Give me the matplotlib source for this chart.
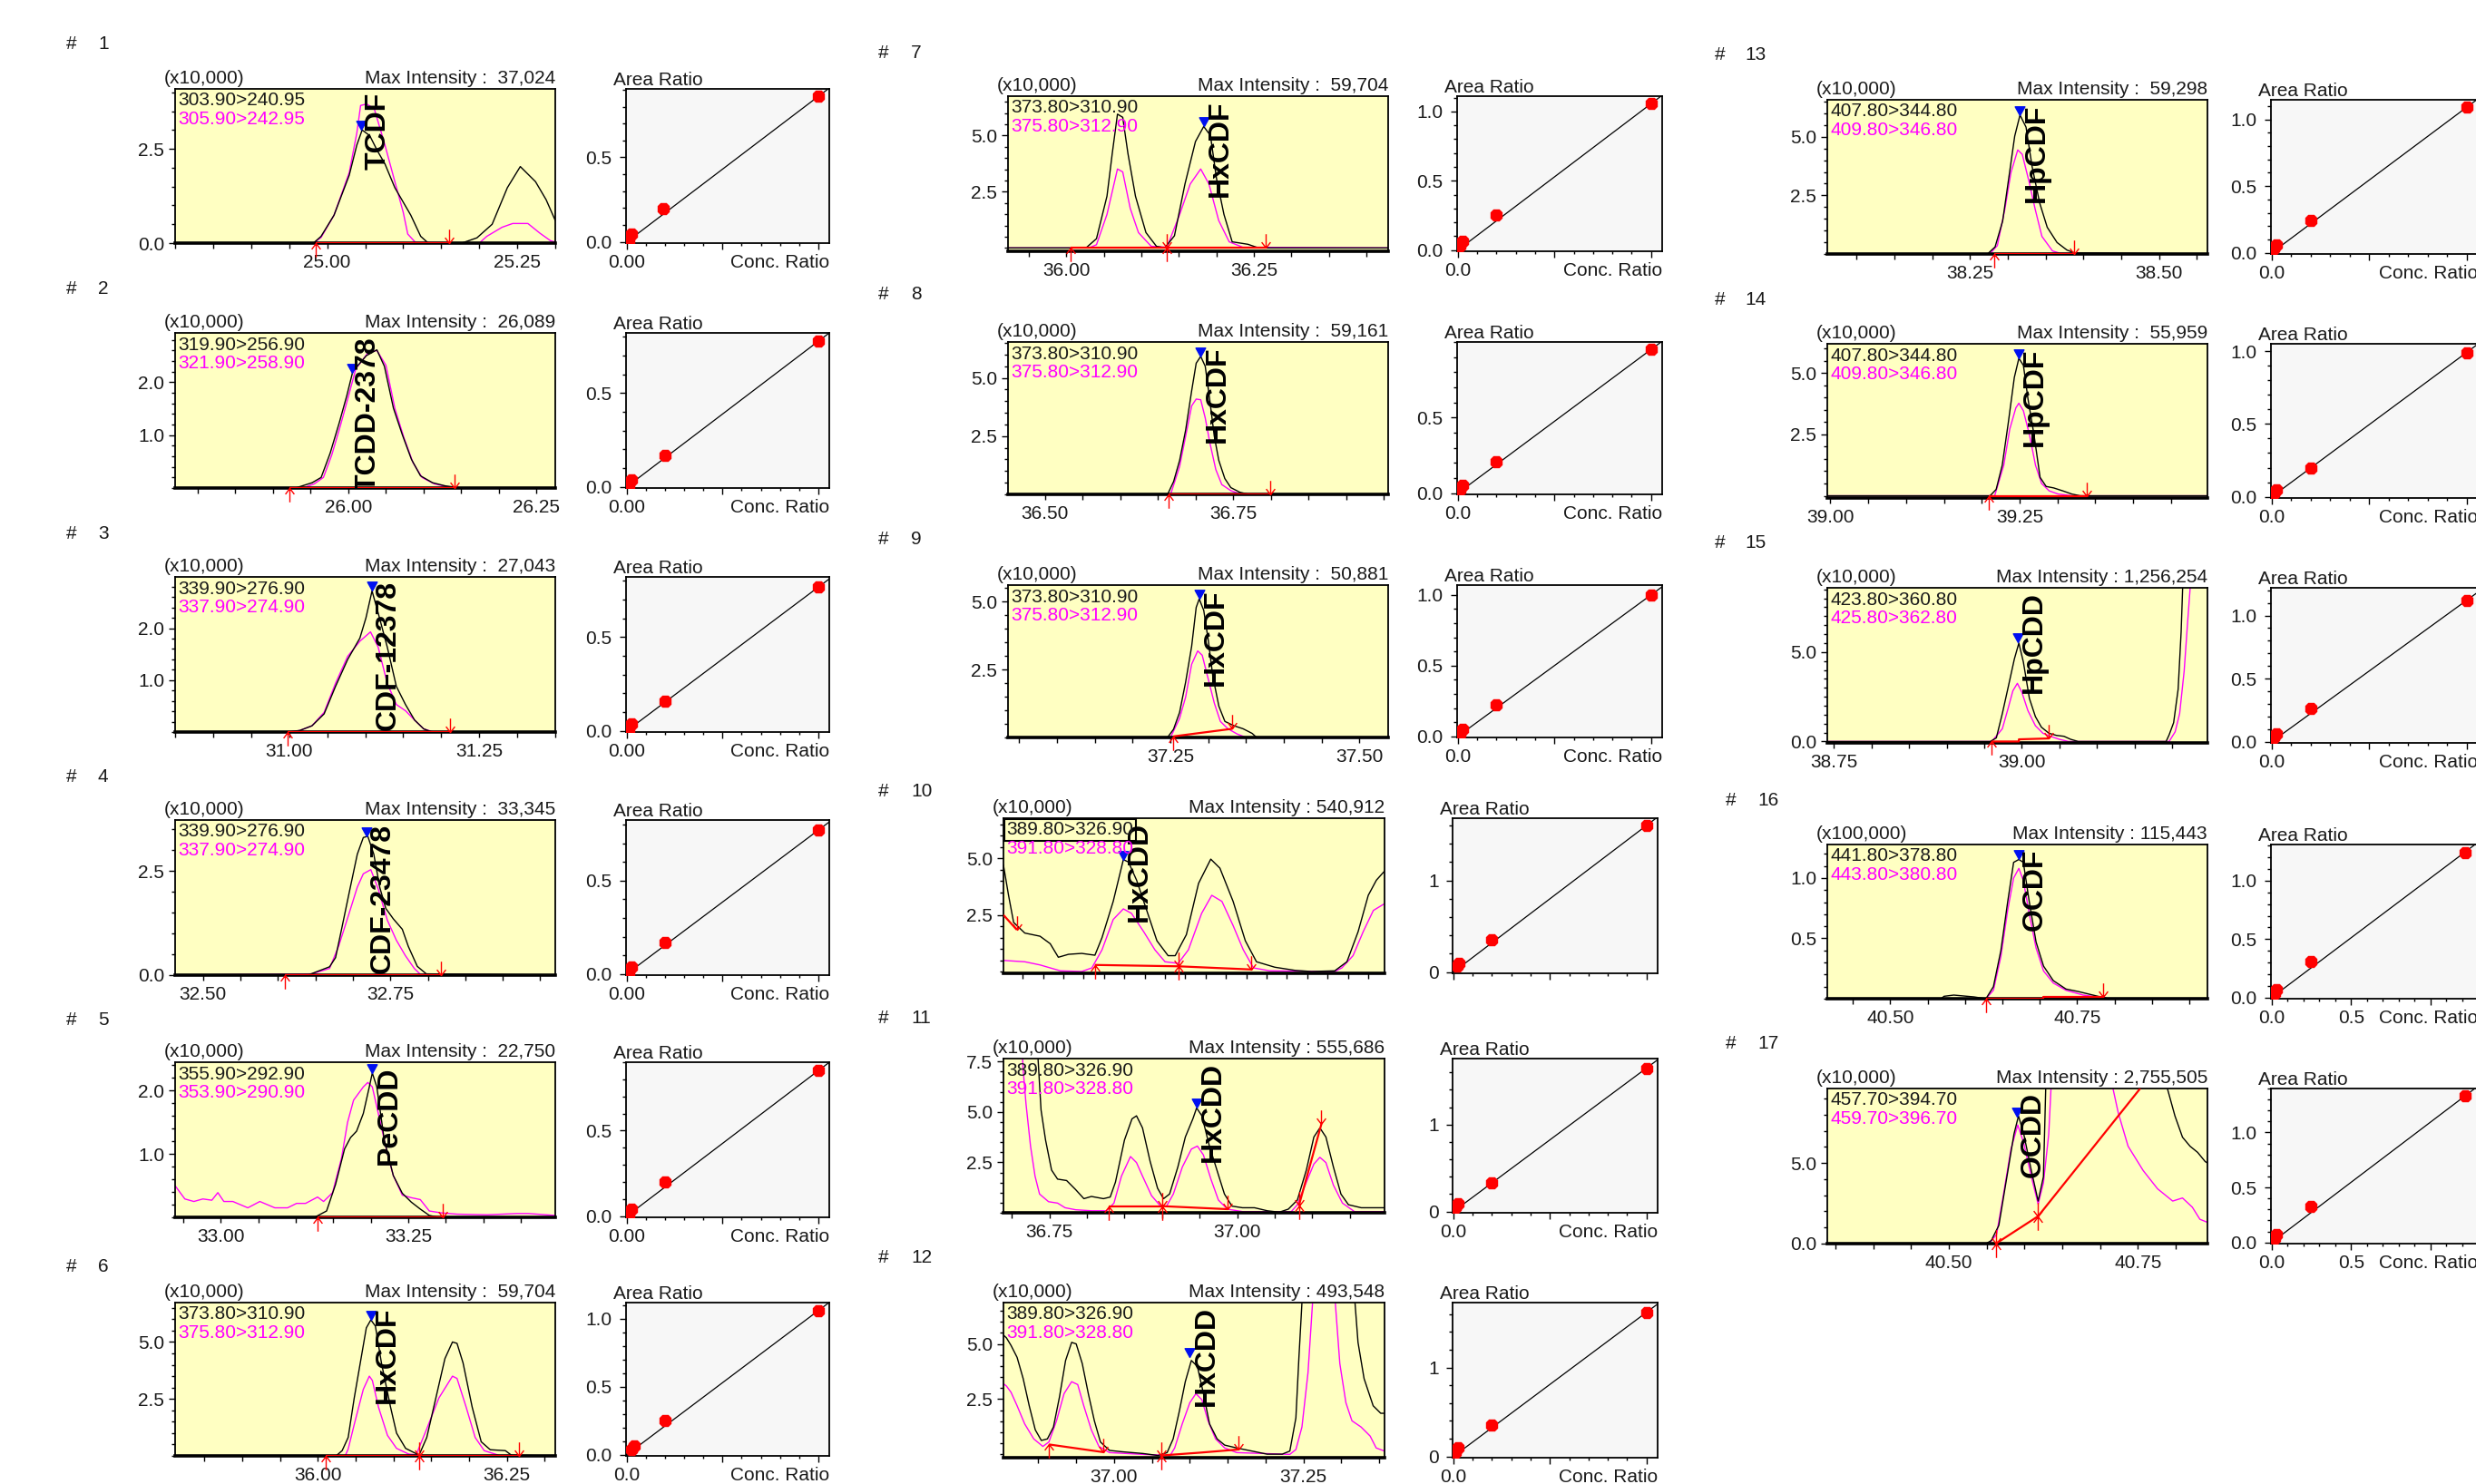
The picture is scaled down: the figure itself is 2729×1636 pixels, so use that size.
import numpy as np
import matplotlib
matplotlib.use("Agg")
import matplotlib.pyplot as plt
from matplotlib.path import Path
import matplotlib.transforms as mtransforms

plt.rcParams['font.family'] = ['Liberation Sans', 'DejaVu Sans']

# ----------------------------------------------------------------- text data
compound_names = ['TCDF', 'TCDD-2378', 'CDF-12378', 'CDF-23478', 'PeCDD',
                  'HxCDF', 'HxCDF', 'HxCDF', 'HxCDF', 'HxCDD', 'HxCDD', 'HxCDD',
                  'HpCDF', 'HpCDF', 'HpCDD', 'OCDF', 'OCDD']
mz_quant = ['303.90>240.95', '319.90>256.90', '339.90>276.90', '339.90>276.90',
            '355.90>292.90', '373.80>310.90', '373.80>310.90', '373.80>310.90',
            '373.80>310.90', '389.80>326.90', '389.80>326.90', '389.80>326.90',
            '407.80>344.80', '407.80>344.80', '423.80>360.80', '441.80>378.80',
            '457.70>394.70']
mz_qual = ['305.90>242.95', '321.90>258.90', '337.90>274.90', '337.90>274.90',
           '353.90>290.90', '375.80>312.90', '375.80>312.90', '375.80>312.90',
           '375.80>312.90', '391.80>328.80', '391.80>328.80', '391.80>328.80',
           '409.80>346.80', '409.80>346.80', '425.80>362.80', '443.80>380.80',
           '459.70>396.70']
max_intensity = ['37,024', '26,089', '27,043', '33,345', '22,750', '59,704',
                 '59,704', '59,161', '50,881', '540,912', '555,686', '493,548',
                 '59,298', '55,959', '1,256,254', '115,443', '2,755,505']
scale_labels = ['(x10,000)'] * 15 + ['(x100,000)', '(x10,000)']

# ----------------------------------------------------------------- chromatograms
# Panel 1 : TCDF
bt01 = [24.80, 24.982, 24.992, 25.009, 25.029, 25.039, 25.046, 25.056, 25.066, 25.076, 25.089,
        25.11, 25.123, 25.133, 25.177, 25.197, 25.217, 25.237, 25.254, 25.274, 25.288, 25.30]
by01 = [0, 0, 0.18, 0.74, 1.8, 2.6, 3.0, 2.85, 2.45, 2.1, 1.47, 0.74, 0.18, 0, 0, 0.14, 0.5,
        1.47, 2.03, 1.63, 1.15, 0.6]
mt01 = [24.80, 24.982, 24.992, 25.009, 25.029, 25.039, 25.044, 25.052, 25.062, 25.076, 25.089,
        25.10, 25.106, 25.116, 25.20, 25.21, 25.23, 25.244, 25.264, 25.28, 25.294, 25.30]
my01 = [0, 0, 0.15, 0.74, 1.87, 2.92, 3.65, 3.69, 3.56, 2.6, 1.63, 0.82, 0.24, 0.02, 0, 0.18,
        0.42, 0.52, 0.52, 0.26, 0.06, 0.03]
base_t01 = [[24.985, 25.16]]
base_y01 = [[0, 0]]
arrows01 = [(24.985, 0, 'up'), (25.16, 0, 'down')]
apex01 = (25.045, 3.0)

# Panel 2 : TCDD-2378
bt02 = [25.77, 25.93, 25.952, 25.964, 25.976, 25.988, 25.998, 26.006, 26.024, 26.038, 26.048,
        26.06, 26.072, 26.084, 26.096, 26.112, 26.129, 26.15, 26.275]
by02 = [0, 0, 0.1, 0.2, 0.66, 1.23, 1.74, 2.2, 2.5, 2.61, 2.3, 1.51, 1.0, 0.54, 0.23, 0.1,
        0.04, 0, 0]
mt02 = [25.77, 25.94, 25.955, 25.967, 25.978, 25.99, 26.0, 26.01, 26.026, 26.038, 26.05,
        26.062, 26.074, 26.086, 26.098, 26.114, 26.13, 26.15, 26.275]
my02 = [0, 0, 0.08, 0.2, 0.62, 1.2, 1.72, 2.25, 2.55, 2.6, 2.32, 1.5, 0.95, 0.48, 0.2, 0.08,
        0.03, 0, 0]
base_t02 = [[25.922, 26.141]]
base_y02 = [[0, 0]]
arrows02 = [(25.922, 0, 'up'), (26.141, 0, 'down')]
apex02 = (26.005, 2.18)

# Panel 3 : PeCDF-12378
bt03 = [30.85, 30.998, 31.014, 31.03, 31.046, 31.061, 31.077, 31.093, 31.101, 31.109, 31.117,
        31.129, 31.141, 31.153, 31.165, 31.177, 31.188, 31.35]
by03 = [0, 0, 0.03, 0.12, 0.35, 0.88, 1.4, 1.81, 2.2, 2.72, 2.3, 1.64, 0.88, 0.53, 0.23, 0.06,
        0, 0]
mt03 = [30.85, 31.0, 31.014, 31.03, 31.046, 31.061, 31.077, 31.093, 31.107, 31.117, 31.129,
        31.141, 31.153, 31.165, 31.177, 31.19, 31.35]
my03 = [0, 0, 0.03, 0.12, 0.38, 0.94, 1.46, 1.75, 1.93, 1.64, 0.94, 0.53, 0.41, 0.23, 0.06,
        0, 0]
base_t03 = [[30.998, 31.212]]
base_y03 = [[0, 0]]
arrows03 = [(30.998, 0, 'up'), (31.212, 0, 'down')]
apex03 = (31.109, 2.72)

# Panel 4 : PeCDF-23478
bt04 = [32.463, 32.64, 32.669, 32.677, 32.685, 32.696, 32.706, 32.714, 32.72, 32.728, 32.736,
        32.744, 32.754, 32.766, 32.774, 32.786, 32.798, 32.97]
by04 = [0, 0, 0.2, 0.42, 1.1, 2.05, 2.9, 3.3, 3.33, 2.9, 2.1, 1.6, 1.35, 1.1, 0.69, 0.21,
        0.03, 0]
mt04 = [32.463, 32.645, 32.669, 32.681, 32.694, 32.706, 32.714, 32.724, 32.734, 32.746, 32.758,
        32.77, 32.782, 32.79, 32.97]
my04 = [0, 0.03, 0.16, 0.69, 1.42, 2.11, 2.43, 2.53, 2.06, 1.32, 0.84, 0.47, 0.16, 0.02, 0]
base_t04 = [[32.609, 32.817]]
base_y04 = [[0, 0]]
arrows04 = [(32.609, 0, 'up'), (32.817, 0, 'down')]
apex04 = (32.718, 3.33)

# Panel 5 : PeCDD
bt05 = [32.939, 33.125, 33.141, 33.153, 33.165, 33.173, 33.181, 33.19, 33.198, 33.202, 33.208,
        33.218, 33.23, 33.242, 33.254, 33.266, 33.278, 33.29, 33.446]
by05 = [0, 0, 0.1, 0.52, 1.08, 1.26, 1.36, 1.64, 2.06, 2.28, 2.06, 1.22, 0.66, 0.38, 0.24,
        0.13, 0.03, 0, 0]
mt05 = [32.939, 32.942, 32.952, 32.964, 32.976, 32.988, 32.996, 33.004, 33.016, 33.036,
        33.052, 33.072, 33.089, 33.101, 33.113, 33.129, 33.137, 33.149, 33.161, 33.169,
        33.177, 33.19, 33.196, 33.202, 33.21, 33.222, 33.23, 33.242, 33.254, 33.266,
        33.278, 33.294, 33.315, 33.355, 33.395, 33.41, 33.446]
my05 = [0.5, 0.45, 0.29, 0.25, 0.29, 0.27, 0.39, 0.25, 0.25, 0.15,
        0.25, 0.15, 0.15, 0.22, 0.22, 0.32, 0.25, 0.39, 0.94, 1.5,
        1.85, 2.06, 2.13, 2.06, 1.64, 1.01, 0.66, 0.35, 0.31, 0.28,
        0.1, 0.07, 0.05, 0.04, 0.06, 0.06, 0.03]
base_t05 = [[33.129, 33.296]]
base_y05 = [[0, 0]]
arrows05 = [(33.129, 0, 'up'), (33.296, 0, 'down')]
apex05 = (33.202, 2.28)

# Panel 6 : HxCDF
bt06 = [35.811, 36.024, 36.032, 36.04, 36.048, 36.056, 36.064, 36.07, 36.076, 36.084, 36.096,
        36.104, 36.116, 36.128, 36.134, 36.144, 36.156, 36.168, 36.178, 36.184, 36.192,
        36.204, 36.216, 36.228, 36.248, 36.256, 36.314]
by06 = [0, 0, 0.23, 0.81, 2.54, 4.08, 5.62, 5.97, 5.7, 4.08, 2.15, 1.0, 0.33, 0.13, 0.05,
        0.81, 2.54, 4.27, 5.0, 4.94, 4.08, 2.15, 0.62, 0.27, 0.23, 0.03, 0]
mt06 = [35.811, 36.036, 36.04, 36.048, 36.06, 36.068, 36.072, 36.08, 36.092, 36.104, 36.12,
        36.13, 36.144, 36.16, 36.178, 36.184, 36.196, 36.208, 36.22, 36.24, 36.314]
my06 = [0, 0, 0.3, 1.38, 2.92, 3.5, 3.31, 2.15, 0.9, 0.33, 0.08, 0.05, 1.19, 2.54, 3.5, 3.4,
        2.15, 0.81, 0.23, 0.02, 0]
base_t06 = [[36.01, 36.134], [36.134, 36.266]]
base_y06 = [[0, 0], [0, 0]]
arrows06 = [(36.01, 0, 'up'), (36.134, 0, 'junction'), (36.266, 0, 'down')]
apex06 = (36.07, 5.97)

# Panel 7 : HxCDF
bt07 = [35.922, 36.026, 36.04, 36.054, 36.061, 36.068, 36.075, 36.082, 36.092, 36.106, 36.12,
        36.131, 36.144, 36.158, 36.172, 36.183, 36.192, 36.2, 36.21, 36.221, 36.242, 36.256,
        36.429]
by07 = [0, 0, 0.41, 2.3, 4.19, 5.95, 5.81, 4.19, 2.3, 0.68, 0.07, 0, 0.54, 2.84, 4.73, 5.4,
        5.0, 3.1, 1.49, 0.27, 0.16, 0, 0]
mt07 = [35.922, 36.03, 36.04, 36.054, 36.068, 36.075, 36.085, 36.096, 36.113, 36.134, 36.151,
        36.165, 36.179, 36.19, 36.203, 36.217, 36.235, 36.429]
my07 = [0, 0, 0.14, 1.49, 3.51, 3.38, 1.76, 0.68, 0.07, 0.03, 1.49, 2.84, 3.51, 2.84, 1.22,
        0.27, 0.03, 0]
base_t07 = [[36.006, 36.134], [36.134, 36.266]]
base_y07 = [[0, 0], [0, 0]]
arrows07 = [(36.006, 0, 'up'), (36.134, 0, 'junction'), (36.266, 0, 'down')]
apex07 = (36.183, 5.4)

# Panel 8 : HxCDF
bt08 = [36.451, 36.663, 36.671, 36.679, 36.687, 36.695, 36.701, 36.707, 36.713, 36.719, 36.725,
        36.731, 36.739, 36.747, 36.759, 36.771, 36.956]
by08 = [0, 0, 0.55, 1.46, 2.76, 4.45, 5.63, 5.92, 5.5, 4.06, 2.5, 1.46, 0.68, 0.29, 0.09, 0, 0]
mt08 = [36.451, 36.667, 36.679, 36.687, 36.695, 36.701, 36.707, 36.713, 36.719, 36.727, 36.735,
        36.747, 36.759, 36.956]
my08 = [0, 0, 1.2, 2.5, 3.8, 4.09, 4.06, 3.28, 2.24, 1.07, 0.42, 0.16, 0.02, 0]
base_t08 = [[36.664, 36.799]]
base_y08 = [[0, 0]]
arrows08 = [(36.664, 0, 'up'), (36.799, 0, 'down')]
apex08 = (36.707, 5.92)

# Panel 9 : HxCDF
bt09 = [37.035, 37.246, 37.254, 37.262, 37.27, 37.278, 37.284, 37.288, 37.294, 37.30, 37.306,
        37.314, 37.322, 37.334, 37.346, 37.358, 37.364, 37.538]
by09 = [0, 0, 0.3, 0.92, 2.03, 3.35, 4.78, 5.09, 4.67, 3.57, 2.25, 1.15, 0.59, 0.43, 0.32,
        0.15, 0, 0]
mt09 = [37.035, 37.25, 37.262, 37.27, 37.278, 37.286, 37.292, 37.30, 37.308, 37.316, 37.326,
        37.338, 37.35, 37.538]
my09 = [0, 0, 0.7, 1.48, 2.69, 3.18, 3.02, 2.14, 1.26, 0.59, 0.32, 0.13, 0, 0]
base_t09 = [[37.254, 37.332]]
base_y09 = [[0.04, 0.32]]
arrows09 = [(37.254, 0.04, 'up'), (37.332, 0.32, 'down')]
apex09 = (37.288, 5.09)

# Panel 10 : HxCDD
bt10 = [36.741, 36.746, 36.751, 36.762, 36.777, 36.787, 36.795, 36.805, 36.818, 36.831,
        36.838, 36.849, 36.859, 36.864, 36.872, 36.882, 36.892, 36.903, 36.91, 36.921,
        36.933, 36.945, 36.954, 36.967, 36.979, 36.99, 37.008, 37.028, 37.044, 37.067,
        37.079, 37.09, 37.1, 37.108, 37.116]
by10 = [4.7, 3.37, 2.17, 1.7, 1.56, 1.23, 0.63, 0.76, 0.8, 0.72,
        1.5, 3.1, 4.95, 4.84, 4.04, 2.7, 1.36, 0.7, 0.7, 1.63,
        3.9, 4.97, 4.57, 3.1, 1.36, 0.43, 0.19, 0.05, 0, 0.03,
        0.43, 1.76, 3.37, 4.04, 4.44]
mt10 = [36.741, 36.762, 36.777, 36.797, 36.818, 36.828, 36.838, 36.849, 36.859, 36.867,
        36.879, 36.89, 36.9, 36.913, 36.923, 36.936, 36.946, 36.956, 36.967, 36.977,
        36.987, 37.003, 37.067, 37.074, 37.085, 37.095, 37.105, 37.116]
my10 = [0.49, 0.43, 0.29, 0.03, 0, 0.16, 0.96, 2.3, 2.77, 2.57,
        1.76, 0.96, 0.43, 0.36, 0.96, 2.57, 3.37, 3.1, 2.03, 0.96,
        0.16, 0.03, 0, 0.16, 0.7, 1.76, 2.7, 3.0]
base_t10 = [[36.741, 36.754], [36.831, 36.913], [36.913, 36.985]]
base_y10 = [[2.5, 1.85], [0.29, 0.23], [0.23, 0.09]]
arrows10 = [(36.754, 1.85, 'down'), (36.831, 0.29, 'up'), (36.913, 0.23, 'junction'),
            (36.985, 0.09, 'down')]
apex10 = (36.859, 4.95)

# Panel 11 : HxCDD
bt11 = [36.689, 36.735, 36.739, 36.745, 36.753, 36.761, 36.773, 36.785, 36.796, 36.806,
        36.822, 36.831, 36.838, 36.85, 36.86, 36.866, 36.874, 36.884, 36.894, 36.902,
        36.91, 36.921, 36.931, 36.941, 36.946, 36.953, 36.963, 36.973, 36.983, 36.993,
        37.007, 37.023, 37.04, 37.056, 37.068, 37.08, 37.092, 37.102, 37.11, 37.118,
        37.128, 37.138, 37.148, 37.165, 37.196]
by11 = [55.57, 7.64, 5.1, 3.61, 2.12, 1.67, 1.6, 1.15, 0.7, 0.81,
        0.7, 0.78, 1.52, 3.61, 4.66, 4.81, 4.21, 2.57, 1.22, 0.7,
        0.93, 2.27, 3.76, 4.66, 5.2, 4.81, 3.31, 2.12, 0.93, 0.33,
        0.25, 0.25, 0.1, 0.03, 0.18, 0.63, 2.12, 3.76, 4.21, 3.76,
        2.27, 0.93, 0.4, 0.25, 0.25]
mt11 = [36.689, 36.715, 36.719, 36.725, 36.731, 36.737, 36.749, 36.761, 36.771, 36.785,
        36.806, 36.826, 36.836, 36.846, 36.858, 36.866, 36.874, 36.886, 36.898, 36.906,
        36.915, 36.927, 36.939, 36.947, 36.955, 36.965, 36.975, 36.987, 37.007, 37.072,
        37.08, 37.092, 37.102, 37.11, 37.118, 37.128, 37.14, 37.156, 37.196]
my11 = [30.0, 7.2, 5.4, 3.31, 1.82, 0.93, 0.55, 0.48, 0.25, 0.15,
        0.1, 0.1, 0.48, 1.82, 2.79, 2.49, 1.82, 0.85, 0.33, 0.33,
        0.93, 2.27, 3.16, 3.31, 2.87, 1.67, 0.63, 0.18, 0.06, 0.06,
        0.4, 1.52, 2.42, 2.75, 2.49, 1.37, 0.48, 0.06, 0.06]
base_t11 = [[36.829, 36.9], [36.9, 36.987], [37.082, 37.112]]
base_y11 = [[0.33, 0.33], [0.33, 0.18], [0.35, 4.4]]
arrows11 = [(36.829, 0.33, 'up'), (36.9, 0.33, 'junction'), (36.987, 0.18, 'down'),
            (37.082, 0.35, 'junction'), (37.112, 4.4, 'down')]
apex11 = (36.946, 5.2)

# Panel 12 : HxCDD
bt12 = [36.854, 36.858, 36.864, 36.872, 36.88, 36.888, 36.896, 36.904, 36.912, 36.92,
        36.928, 36.936, 36.944, 36.95, 36.958, 36.966, 36.974, 36.982, 36.994, 37.01,
        37.038, 37.058, 37.07, 37.078, 37.086, 37.094, 37.102, 37.11, 37.118, 37.126,
        37.136, 37.146, 37.162, 37.182, 37.202, 37.222, 37.232, 37.24, 37.244, 37.248,
        37.275, 37.318, 37.322, 37.33, 37.342, 37.352, 37.357]
by12 = [5.4, 5.27, 4.93, 4.39, 3.43, 2.2, 1.11, 0.63, 0.7, 1.24,
        2.61, 4.25, 5.07, 5.0, 4.11, 2.75, 1.52, 0.56, 0.18, 0.12,
        0.04, -0.05, 0.08, 0.7, 1.93, 3.29, 4.25, 3.98, 2.75, 1.38,
        0.7, 0.42, 0.29, 0.15, 0.01, 0.01, 0.15, 1.65, 4.39, 6.87,
        49.35, 6.87, 5.07, 3.43, 2.2, 1.86, 1.86]
mt12 = [36.854, 36.858, 36.864, 36.872, 36.882, 36.894, 36.906, 36.914, 36.924, 36.934,
        36.944, 36.952, 36.96, 36.97, 36.98, 36.994, 37.038, 37.074, 37.08, 37.09,
        37.1, 37.108, 37.116, 37.124, 37.134, 37.146, 37.162, 37.232, 37.24, 37.248,
        37.256, 37.262, 37.275, 37.292, 37.298, 37.306, 37.314, 37.326, 37.338, 37.346,
        37.357]
my12 = [3.2, 3.09, 2.81, 2.2, 1.38, 0.7, 0.36, 0.56, 1.52, 2.75,
        3.29, 3.16, 2.2, 1.11, 0.36, 0.08, 0.0, -0.05, 0.29, 1.38,
        2.34, 2.75, 2.47, 1.52, 0.7, 0.29, 0.08, 0.0, 0.22, 1.24,
        3.7, 6.87, 30.0, 6.87, 4.11, 2.34, 1.52, 1.24, 0.83, 0.29,
        0.15]
base_t12 = [[36.914, 36.986], [37.062, 37.114, 37.164]]
base_y12 = [[0.45, 0.1], [-0.05, 0.08, 0.22]]
arrows12 = [(36.914, 0.45, 'up'), (36.986, 0.1, 'down'), (37.062, -0.05, 'junction'),
            (37.164, 0.22, 'down')]
apex12 = (37.1, 4.4)

# Panel 13 : HpCDF
bt13 = [38.061, 38.273, 38.283, 38.293, 38.301, 38.309, 38.316, 38.324, 38.332, 38.342,
        38.352, 38.365, 38.378, 38.388, 38.564]
by13 = [0, 0, 0.3, 1.4, 3.21, 5.03, 5.93, 5.41, 3.73, 2.18, 1.14, 0.49, 0.17, 0.05, 0]
mt13 = [38.061, 38.276, 38.286, 38.296, 38.304, 38.313, 38.319, 38.328, 38.336, 38.345,
        38.359, 38.369, 38.564]
my13 = [0, 0, 0.36, 1.92, 3.47, 4.44, 4.25, 3.08, 1.92, 0.75, 0.13, 0.03, 0]
base_t13 = [[38.282, 38.388]]
base_y13 = [[0, 0]]
arrows13 = [(38.282, 0, 'up'), (38.388, 0, 'down')]
apex13 = (38.316, 5.93)

# Panel 14 : HpCDF
bt14 = [38.996, 39.211, 39.219, 39.227, 39.235, 39.243, 39.249, 39.255, 39.261, 39.269,
        39.277, 39.285, 39.295, 39.307, 39.319, 39.33, 39.498]
by14 = [0, 0, 0.26, 1.24, 2.97, 4.82, 5.6, 5.31, 3.95, 2.48, 0.75, 0.38, 0.32, 0.2, 0.07, 0, 0]
mt14 = [38.996, 39.217, 39.229, 39.237, 39.245, 39.249, 39.255, 39.263, 39.271, 39.279,
        39.289, 39.301, 39.32, 39.498]
my14 = [0, 0, 1.24, 2.72, 3.58, 3.77, 3.46, 2.48, 1.24, 0.5, 0.2, 0.07, 0, 0]
base_t14 = [[39.209, 39.339]]
base_y14 = [[0, 0]]
arrows14 = [(39.209, 0, 'up'), (39.339, 0, 'down')]
apex14 = (39.249, 5.6)

# Panel 15 : HpCDD
bt15 = [38.741, 38.958, 38.966, 38.974, 38.982, 38.99, 38.996, 39.002, 39.01, 39.018,
        39.026, 39.036, 39.046, 39.056, 39.065, 39.075, 39.192, 39.196, 39.202, 39.208,
        39.212, 39.214, 39.235, 39.247]
by15 = [0, 0, 0.2, 1.56, 3.08, 4.61, 5.5, 4.44, 2.41, 1.39,
        0.8, 0.46, 0.34, 0.29, 0.12, 0, 0, 0.37, 1.05, 2.92,
        6.14, 8.59, 125.6, 110.0]
mt15 = [38.741, 38.96, 38.974, 38.982, 38.988, 38.994, 39.0, 39.008, 39.018, 39.028,
        39.038, 39.05, 39.062, 39.196, 39.204, 39.21, 39.216, 39.22, 39.224, 39.247]
my15 = [0, 0, 0.71, 1.9, 2.83, 3.25, 2.75, 1.73, 0.88, 0.46,
        0.29, 0.12, 0, 0, 0.54, 1.56, 3.93, 6.31, 8.59, 60.0]
base_t15 = [[38.96, 38.996, 38.996, 39.036]]
base_y15 = [[0, 0, 0.12, 0.17]]
arrows15 = [(38.96, 0, 'up'), (39.036, 0.17, 'down')]
apex15 = (38.994, 5.55)

# Panel 16 : OCDF  (x100,000)
bt16 = [40.416, 40.568, 40.572, 40.585, 40.612, 40.628, 40.638, 40.648, 40.657, 40.665,
        40.672, 40.678, 40.686, 40.695, 40.705, 40.718, 40.735, 40.751, 40.771, 40.791, 40.924]
by16 = [0, 0, 0.02, 0.03, 0.015, 0, 0.1, 0.4, 0.8, 1.13, 1.154, 1.13, 0.8, 0.47, 0.27, 0.15,
        0.08, 0.06, 0.03, 0, 0]
mt16 = [40.416, 40.628, 40.638, 40.648, 40.657, 40.665, 40.672, 40.678, 40.686, 40.695,
        40.705, 40.718, 40.735, 40.758, 40.794, 40.924]
my16 = [0, 0, 0.07, 0.35, 0.73, 1.0, 1.08, 0.98, 0.7, 0.42, 0.23, 0.13, 0.07, 0.03, 0, 0]
base_t16 = [[40.628, 40.705, 40.705, 40.785]]
base_y16 = [[0, 0, 0.015, 0.015]]
arrows16 = [(40.628, 0, 'up'), (40.785, 0.015, 'down')]
apex16 = (40.672, 1.154)

# Panel 17 : OCDD
bt17 = [40.339, 40.549, 40.556, 40.566, 40.576, 40.586, 40.592, 40.599, 40.609, 40.618,
        40.625, 40.628, 40.70, 40.789, 40.799, 40.809, 40.819, 40.829, 40.839, 40.842]
by17 = [0, 0, 0.19, 1.13, 3.96, 6.79, 7.92, 6.79, 4.53, 2.64,
        4.15, 9.62, 275.5, 9.62, 7.92, 6.6, 6.04, 5.66, 5.09, 5.0]
mt17 = [40.339, 40.553, 40.563, 40.572, 40.582, 40.591, 40.599, 40.609, 40.618, 40.625,
        40.632, 40.635, 40.68, 40.717, 40.724, 40.737, 40.757, 40.776, 40.796, 40.809,
        40.822, 40.832, 40.842]
my17 = [0, 0, 0.57, 3.02, 5.85, 7.36, 6.23, 4.15, 2.45, 3.77,
        6.79, 9.62, 120.0, 9.62, 8.11, 6.04, 4.53, 3.4, 2.64, 2.83,
        2.26, 1.51, 1.32]
base_t17 = [[40.562, 40.618, 40.753]]
base_y17 = [[0, 1.7, 9.62]]
arrows17 = [(40.562, 0, 'junction'), (40.618, 1.7, 'junction')]
apex17 = (40.59, 7.85)

# ----------------------------------------------------------------- calibrations
cal_x01 = [0.01, 0.025, 0.19, 1.0];   cal_y01 = [0.01, 0.045, 0.196, 0.86]
cal_x02 = [0.01, 0.025, 0.2, 1.0];    cal_y02 = [0.01, 0.035, 0.167, 0.775]
cal_x03 = [0.01, 0.025, 0.2, 1.0];    cal_y03 = [0.01, 0.035, 0.16, 0.765]
cal_x04 = [0.01, 0.025, 0.2, 1.0];    cal_y04 = [0.01, 0.035, 0.17, 0.77]
cal_x05 = [0.01, 0.025, 0.2, 1.0];    cal_y05 = [0.01, 0.04, 0.2, 0.85]
cal_x06 = [0.024, 0.04, 0.2, 1.0];    cal_y06 = [0.035, 0.062, 0.25, 1.06]
cal_x07 = [0.01, 0.025, 0.197, 1.0];  cal_y07 = [0.03, 0.06, 0.254, 1.055]
cal_x08 = [0.01, 0.025, 0.2, 1.0];    cal_y08 = [0.02, 0.05, 0.21, 0.95]
cal_x09 = [0.01, 0.025, 0.2, 1.0];    cal_y09 = [0.02, 0.05, 0.22, 1.0]
cal_x10 = [0.02, 0.03, 0.196, 1.0];   cal_y10 = [0.07, 0.1, 0.354, 1.6]
cal_x11 = [0.01, 0.025, 0.2, 1.0];    cal_y11 = [0.05, 0.09, 0.33, 1.65]
cal_x12 = [0.01, 0.025, 0.2, 1.0];    cal_y12 = [0.05, 0.1, 0.35, 1.62]
cal_x13 = [0.01, 0.025, 0.2, 1.0];    cal_y13 = [0.03, 0.06, 0.244, 1.09]
cal_x14 = [0.01, 0.025, 0.2, 1.0];    cal_y14 = [0.02, 0.05, 0.2, 0.99]
cal_x15 = [0.01, 0.025, 0.2, 1.0];    cal_y15 = [0.03, 0.06, 0.26, 1.12]
cal_x16 = [0.02, 0.03, 0.248, 1.217]; cal_y16 = [0.035, 0.07, 0.306, 1.243]
cal_x17 = [0.02, 0.03, 0.248, 1.217]; cal_y17 = [0.04, 0.075, 0.33, 1.33]

# ----------------------------------------------------------------- axis scales / tick labels
chrom_xlim = [(24.80, 25.30), (25.77, 26.275), (30.85, 31.35), (32.463, 32.97),
              (32.939, 33.446), (35.811, 36.314), (35.922, 36.429), (36.451, 36.956),
              (37.035, 37.538), (36.741, 37.116), (36.689, 37.196), (36.854, 37.357),
              (38.061, 38.564), (38.996, 39.498), (38.741, 39.247), (40.416, 40.924),
              (40.339, 40.842)]
chrom_ylim = [(0, 4.09), (0, 2.93), (0, 2.99), (0, 3.72), (0, 2.45), (0, 6.73),
              (-0.15, 6.75), (0, 6.54), (0, 5.6), (-0.08, 6.78), (0, 7.65), (-0.15, 6.87),
              (0, 6.58), (-0.09, 6.19), (-0.08, 8.59), (0, 1.278), (0, 9.62)]
chrom_xlabels = [[25.00, 25.25], [26.00, 26.25], [31.00, 31.25], [32.50, 32.75],
                 [33.00, 33.25], [36.00, 36.25], [36.00, 36.25], [36.50, 36.75],
                 [37.25, 37.50], [], [36.75, 37.00], [37.00, 37.25], [38.25, 38.50],
                 [39.00, 39.25], [38.75, 39.00], [40.50, 40.75], [40.50, 40.75]]
chrom_xstep = [0.05] * 9 + [0.02] + [0.05] * 7
chrom_ylabels = [[0.0, 2.5], [1.0, 2.0], [1.0, 2.0], [0.0, 2.5], [1.0, 2.0], [2.5, 5.0],
                 [2.5, 5.0], [2.5, 5.0], [2.5, 5.0], [2.5, 5.0], [2.5, 5.0, 7.5],
                 [2.5, 5.0], [2.5, 5.0], [2.5, 5.0], [0.0, 5.0], [0.5, 1.0], [0.0, 5.0]]
chrom_ystep = [0.5, 0.2, 0.2, 0.5, 0.2, 0.5, 0.5, 0.5, 0.5, 0.5, 0.5, 0.5, 0.5, 0.5, 0.5,
               0.1, 1.0]

cal_ytop = [0.905, 0.82, 0.82, 0.825, 0.9, 1.12, 1.11, 1.0, 1.07, 1.68, 1.76, 1.73, 1.147,
            1.05, 1.22, 1.31, 1.40]
cal_xmax = [1.058] * 15 + [1.30, 1.30]
cal_ylabels = [[0.0, 0.5]] * 5 + [[0.0, 0.5, 1.0]] * 2 + [[0.0, 0.5]] + [[0.0, 0.5, 1.0]] \
              + [[0, 1]] * 3 + [[0.0, 0.5, 1.0]] * 5
cal_yfmt = ['{:.1f}'] * 9 + ['{:.0f}'] * 3 + ['{:.1f}'] * 5
cal_ystep = [0.1] * 9 + [0.2] * 3 + [0.1] * 5
cal_xlabels = [['0.00', '', '']] * 5 + [['0.0', '', '']] * 4 + [['', '', '']] \
              + [['0.0', '', '']] * 5 + [['0.0', '0.5', '']] * 2
cal_show_conc = [True] * 9 + [False] + [True] * 7

black_t = [bt01, bt02, bt03, bt04, bt05, bt06, bt07, bt08, bt09, bt10, bt11, bt12, bt13, bt14, bt15, bt16, bt17]
black_y = [by01, by02, by03, by04, by05, by06, by07, by08, by09, by10, by11, by12, by13, by14, by15, by16, by17]
mag_t = [mt01, mt02, mt03, mt04, mt05, mt06, mt07, mt08, mt09, mt10, mt11, mt12, mt13, mt14, mt15, mt16, mt17]
mag_y = [my01, my02, my03, my04, my05, my06, my07, my08, my09, my10, my11, my12, my13, my14, my15, my16, my17]
base_t = [base_t01, base_t02, base_t03, base_t04, base_t05, base_t06, base_t07, base_t08, base_t09,
          base_t10, base_t11, base_t12, base_t13, base_t14, base_t15, base_t16, base_t17]
base_y = [base_y01, base_y02, base_y03, base_y04, base_y05, base_y06, base_y07, base_y08, base_y09,
          base_y10, base_y11, base_y12, base_y13, base_y14, base_y15, base_y16, base_y17]
arrows = [arrows01, arrows02, arrows03, arrows04, arrows05, arrows06, arrows07, arrows08, arrows09,
          arrows10, arrows11, arrows12, arrows13, arrows14, arrows15, arrows16, arrows17]
apexes = [apex01, apex02, apex03, apex04, apex05, apex06, apex07, apex08, apex09, apex10, apex11,
          apex12, apex13, apex14, apex15, apex16, apex17]
cal_x = [cal_x01, cal_x02, cal_x03, cal_x04, cal_x05, cal_x06, cal_x07, cal_x08, cal_x09, cal_x10,
         cal_x11, cal_x12, cal_x13, cal_x14, cal_x15, cal_x16, cal_x17]
cal_y = [cal_y01, cal_y02, cal_y03, cal_y04, cal_y05, cal_y06, cal_y07, cal_y08, cal_y09, cal_y10,
         cal_y11, cal_y12, cal_y13, cal_y14, cal_y15, cal_y16, cal_y17]

# ----------------------------------------------------------------- layout (pixels)
W, H = 2729, 1636
CHROM_X = [(193, 612)] * 6 + [(1111, 1530)] * 3 + [(1106, 1526)] * 3 + [(2014, 2433)] * 5
CALIB_X = [(690, 914)] * 6 + [(1606, 1832)] * 3 + [(1601, 1827)] * 3 + [(2503, 2731)] * 5
ROWS = [(98, 268), (367, 538), (636, 807), (904, 1075), (1171, 1342), (1436, 1605),
        (106, 277), (377, 545), (645, 813), (902, 1073), (1167, 1337), (1436, 1607),
        (110, 280), (379, 549), (648, 819), (931, 1101), (1200, 1371)]
HASH_POS = [(73, 108, 49), (73, 108, 318), (73, 108, 588), (73, 108, 856), (73, 108, 1124),
            (73, 108, 1396), (968, 1004, 58), (968, 1004, 325), (968, 1004, 595),
            (968, 1004, 872), (968, 1004, 1122), (968, 1004, 1387), (1890, 1923, 61),
            (1890, 1923, 331), (1890, 1923, 599), (1902, 1937, 883), (1902, 1937, 1150)]

CHROM_BG = '#FFFFC2'
CALIB_BG = '#F7F7F7'
MAG = '#FF00FF'
TXT = '#1a1a1a'
FS = 15

MV, LN, CL = Path.MOVETO, Path.LINETO, Path.CLOSEPOLY
UP = Path([(0, -1), (0, 0), (-0.32, -0.42), (0, 0), (0.32, -0.42)], [MV, LN, MV, LN, LN])
DOWN = Path([(0, 1), (0, 0), (-0.32, 0.42), (0, 0), (0.32, 0.42)], [MV, LN, MV, LN, LN])
TRI = Path([(-0.55, 1.0), (0.55, 1.0), (0, 0), (-0.55, 1.0)], [MV, LN, LN, CL])

fig = plt.figure(figsize=(W / 100, H / 100), dpi=100)
fig.patch.set_facecolor('white')


def px_axes(l, t, r, b):
    return fig.add_axes([l / W, 1 - b / H, (r - l) / W, (b - t) / H])


def ftext(x, y, s, **kw):
    kw.setdefault('fontsize', FS)
    kw.setdefault('color', TXT)
    return fig.text(x / W, 1 - y / H, s, **kw)


def multiples(a, b, step):
    k0 = int(np.ceil(a / step - 1e-6))
    k1 = int(np.floor(b / step + 1e-6))
    return [round(k * step, 4) for k in range(k0, k1 + 1)]


for i in range(17):
    l, r = CHROM_X[i]
    t, b = ROWS[i]
    ax = px_axes(l, t, r, b)
    ax.set_facecolor(CHROM_BG)
    ax.plot(mag_t[i], mag_y[i], color=MAG, lw=1.0, zorder=2)
    ax.plot(black_t[i], black_y[i], color='black', lw=1.0, zorder=3)
    for st, sy in zip(base_t[i], base_y[i]):
        ax.plot(st, sy, color='red', lw=1.6, zorder=4, solid_capstyle='butt')
    for at, ay, kind in arrows[i]:
        paths = {'up': [UP], 'down': [DOWN], 'junction': [UP, DOWN]}[kind]
        for p in paths:
            ax.plot([at], [ay], ls='none', marker=p, ms=22, mfc='none', mec='red',
                    mew=1.0, clip_on=False, zorder=5)
    ax.plot([apexes[i][0]], [apexes[i][1]], ls='none', marker=TRI, ms=14,
            mfc='#0010F0', mec='#0010F0', zorder=6)
    x0, x1 = chrom_xlim[i]
    y0, y1 = chrom_ylim[i]
    ax.set_xlim(x0, x1)
    ax.set_ylim(y0, y1)

    xt = multiples(x0, x1, chrom_xstep[i])
    ax.set_xticks(xt)
    ax.set_xticklabels(['{:.2f}'.format(v) if any(abs(v - m) < 1e-6 for m in chrom_xlabels[i])
                        else '' for v in xt])
    ax.set_yticks(chrom_ylabels[i])
    ax.set_yticklabels(['{:.1f}'.format(v) for v in chrom_ylabels[i]])
    ymin = [v for v in multiples(max(y0, 0), y1, chrom_ystep[i])
            if not any(abs(v - m) < 1e-6 for m in chrom_ylabels[i])]
    ax.set_yticks(ymin, minor=True)
    ax.tick_params(axis='x', which='both', direction='out', length=4, width=1.0,
                   labelsize=FS, pad=4.5, labelcolor=TXT)
    ax.tick_params(axis='y', which='major', direction='out', length=5, width=1.0,
                   labelsize=FS, pad=3.5, labelcolor=TXT)
    ax.tick_params(axis='y', which='minor', direction='out', length=3, width=1.0)
    for sp in ax.spines.values():
        sp.set_linewidth(1.3)
    ax.spines['bottom'].set_linewidth(2.6)

    # compound name, rotated, just right of apex, hanging from the top
    trans = mtransforms.blended_transform_factory(ax.transData, ax.transAxes) + \
        mtransforms.ScaledTranslation(13 / 72, -3 / 72, fig.dpi_scale_trans)
    ax.text(apexes[i][0], 1.0, compound_names[i], transform=trans, rotation=90,
            ha='center', va='top', fontsize=23, fontweight='bold', color='black',
            clip_on=True, zorder=7)

    # header texts
    ftext(l - 12, t - 6, scale_labels[i], va='baseline')
    sep = '  ' if len(max_intensity[i]) <= 6 else ' '
    ftext(r, t - 6, 'Max Intensity :' + sep + max_intensity[i], ha='right', va='baseline')
    if i == 9:
        ftext(l + 3, t + 18.5, mz_quant[i], va='baseline',
              bbox=dict(boxstyle='square,pad=0.12', fc='none', ec='black', lw=1.5))
    else:
        ftext(l + 3, t + 18.5, mz_quant[i], va='baseline')
    ftext(l + 3, t + 39, mz_qual[i], va='baseline', color=MAG)

    hx, nx, hy = HASH_POS[i]
    ftext(hx, hy, '#', va='center')
    ftext(nx, hy, str(i + 1), va='center')

    # calibration panel
    cl, cr = CALIB_X[i]
    cax = px_axes(cl, t, cr, b)
    cax.set_facecolor(CALIB_BG)
    xmax = cal_xmax[i]
    ymax = cal_ytop[i]
    slope = cal_y[i][-1] / cal_x[i][-1]
    xs = np.array([0.0, xmax * 1.05])
    cax.plot(xs, slope * xs, color='black', lw=0.9, zorder=2)
    cax.plot(cal_x[i], cal_y[i], ls='none', marker='8', ms=9.5, color='#FF0000',
             mec='#FF0000', zorder=3)
    cax.set_xlim(-0.004 * xmax, xmax)
    cax.set_ylim(-0.008 * ymax, ymax)
    cax.set_xticks([0.0, 0.5, 1.0])
    cax.set_xticklabels(cal_xlabels[i])
    cax.set_xticks([v for v in multiples(0, xmax, 0.1) if v not in (0.0, 0.5, 1.0)], minor=True)
    cax.set_yticks(cal_ylabels[i])
    cax.set_yticklabels([cal_yfmt[i].format(v) for v in cal_ylabels[i]])
    cax.set_yticks([v for v in multiples(0, ymax, cal_ystep[i])
                    if not any(abs(v - m) < 1e-6 for m in cal_ylabels[i])], minor=True)
    cax.tick_params(axis='x', which='major', direction='out', length=5, width=1.0,
                    labelsize=FS, pad=3.5, labelcolor=TXT)
    cax.tick_params(axis='x', which='minor', direction='out', length=2.5, width=1.0)
    cax.tick_params(axis='y', which='major', direction='out', length=5, width=1.0,
                    labelsize=FS, pad=6, labelcolor=TXT)
    cax.tick_params(axis='y', which='minor', direction='out', length=3, width=1.0)
    for sp in cax.spines.values():
        sp.set_linewidth(1.3)
    ftext(cl - 14, t - 4, 'Area Ratio', va='baseline')
    if cal_show_conc[i]:
        ftext(cr, b + 11.8, 'Conc. Ratio', ha='right', va='top')

fig.savefig('out.png', dpi=100, facecolor='white')
